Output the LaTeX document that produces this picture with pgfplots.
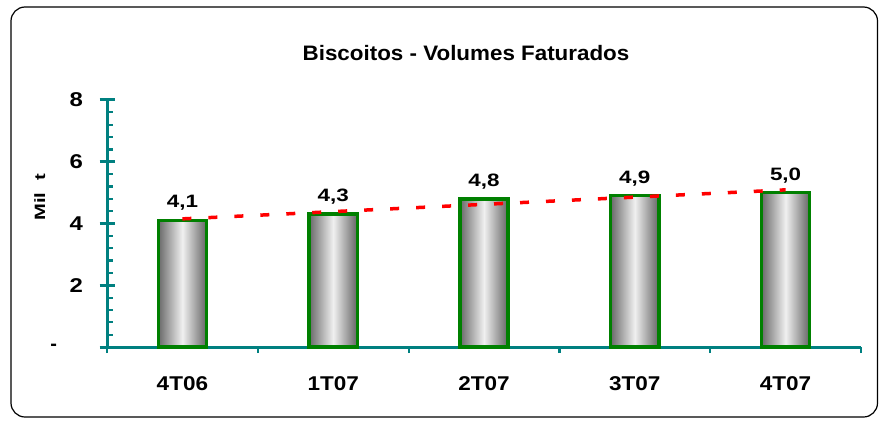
\documentclass[border=0pt]{standalone}
\usepackage{fontspec}
\setmainfont{Liberation Sans}
\usepackage{graphicx}
\usepackage{pgfplots}
\pgfplotsset{compat=1.18}
\definecolor{axteal}{RGB}{0,128,128}
\definecolor{bargreen}{RGB}{0,128,0}
\definecolor{trendred}{RGB}{255,0,0}
\definecolor{barleft}{RGB}{105,105,105}
\definecolor{barmid}{RGB}{240,240,240}
\definecolor{barright}{RGB}{100,100,100}
\newcommand{\fs}[1]{\fontsize{#1}{#1}\selectfont\bfseries}
\newcommand{\wx}[2]{\scalebox{#1}[1]{#2}}

\pgfplotsset{
  cylbar/.style={ybar, bar width=0.32, bar shift=0pt, draw=bargreen, line width=3.5bp,
    left color=barleft, right color=barright, middle color=barmid,
    nodes near coords={\wx{1.25}{\pgfmathprintnumber{\pgfplotspointmeta}}},
    nodes near coords style={font=\fs{18}, text=black, inner sep=0pt, anchor=south, yshift=8bp}},
}

\begin{document}
\begin{tikzpicture}[x=1bp,y=1bp]
\useasboundingbox (0,0) rectangle (879,420);
\draw[line width=1.2bp, rounded corners=14bp] (11,3) rectangle (877.5,413);
\node[font=\fs{21}] at (466,367) {\wx{1.07}{Biscoitos  -  Volumes Faturados}};
\begin{axis}[
  at={(107bp,73bp)}, anchor=south west,
  scale only axis, width=754bp, height=247bp,
  xmin=-0.5, xmax=4.5, ymin=0, ymax=8,
  axis x line=bottom, axis y line=left,
  axis line style={-, draw=axteal, line width=3bp},
  every outer x axis line/.append style={-, draw=axteal, line width=3bp},
  every outer y axis line/.append style={-, draw=axteal, line width=3bp},
  tick align=center,
  major tick length=15bp, minor tick length=6bp,
  every tick/.style={draw=axteal, line width=3bp},
  every major tick/.append style={draw=axteal, line width=3bp},
  every minor tick/.append style={draw=axteal, line width=2.2bp},
  xtick={0,1,2,3,4},
  xticklabels={\wx{1.13}{4T06},\wx{1.13}{1T07},\wx{1.13}{2T07},\wx{1.13}{3T07},\wx{1.13}{4T07}},
  major x tick style={draw=none},
  minor xtick={-0.5,0.5,1.5,2.5,3.5,4.5},
  minor x tick style={yshift=-3bp},
  ytick={0,2,4,6,8},
  yticklabels={{-\hspace*{26bp}},\wx{1.2}{2},\wx{1.2}{4},\wx{1.2}{6},\wx{1.2}{8}},
  minor ytick={0.4,0.8,1.2,1.6,2.4,2.8,3.2,3.6,4.4,4.8,5.2,5.6,6.4,6.8,7.2,7.6},
  minor y tick style={xshift=3bp},
  xticklabel style={font=\fs{20}, anchor=north, yshift=-19bp},
  yticklabel style={font=\fs{20}, anchor=east, xshift=-13bp},
  ylabel={\wx{1.35}{Mil\hspace{0.6em}t}},
  every axis y label/.style={at={(axis description cs:-0.089,0.607)}, rotate=90, anchor=center, font=\fs{15}},
  /pgf/number format/use comma,
  /pgf/number format/fixed,
  /pgf/number format/fixed zerofill,
  /pgf/number format/precision=1,
  /pgf/number format/assume math mode=true,
  clip=false,
]
% one plot per bar, so that each bar gets its own cylinder shading
\addplot[cylbar] coordinates {(0,4.1)};
\addplot[cylbar] coordinates {(1,4.3)};
\addplot[cylbar] coordinates {(2,4.8)};
\addplot[cylbar] coordinates {(3,4.9)};
\addplot[cylbar] coordinates {(4,5.0)};
% linear trend
\addplot[trendred, line width=3.5bp, dash pattern=on 9bp off 17bp]
  coordinates {(0,4.15) (4,5.09)};
\end{axis}
\end{tikzpicture}
\end{document}
